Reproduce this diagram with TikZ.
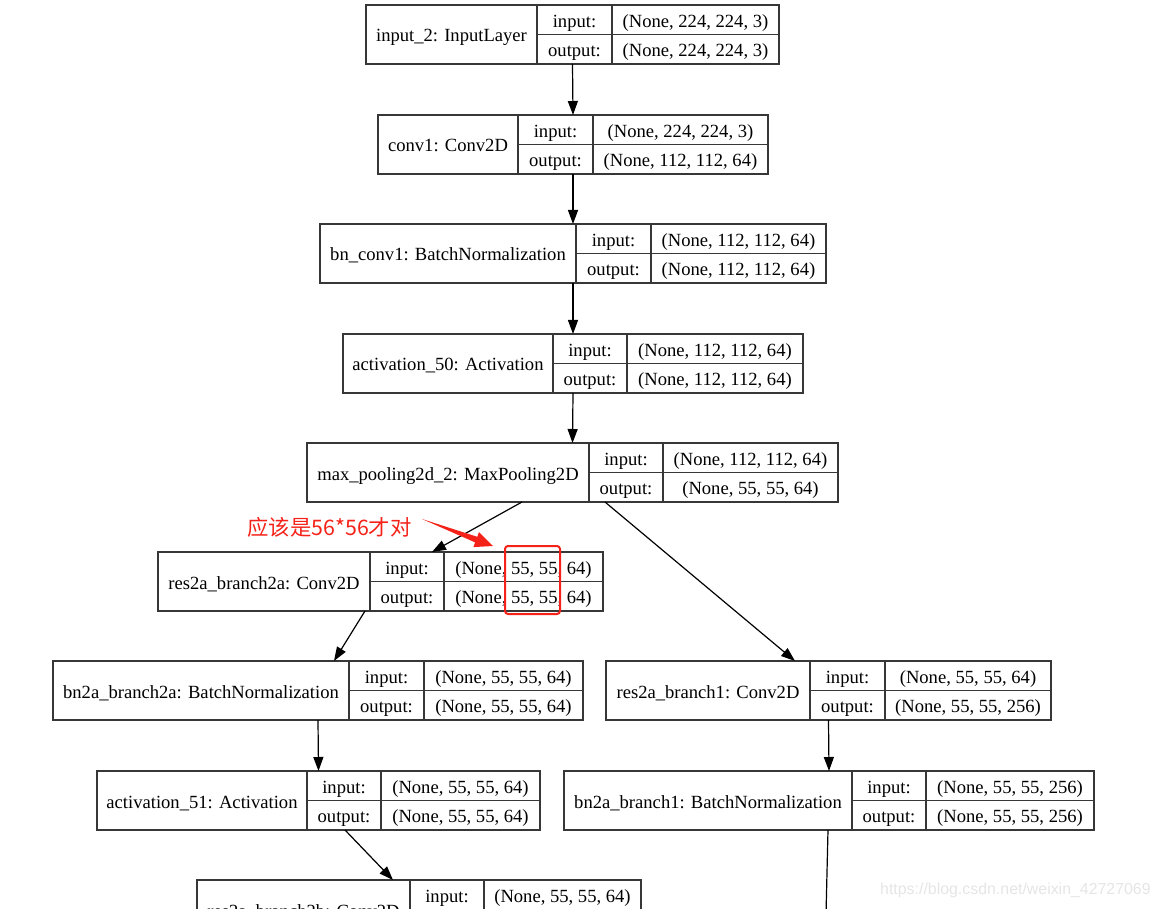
\documentclass[tikz,border=0pt]{standalone}
\usepackage{fontspec}
\setmainfont{Liberation Serif}
\newfontfamily\cjkfont{Noto Sans CJK SC}
\newfontfamily\wmfont{Liberation Sans}
\usetikzlibrary{arrows.meta}
\definecolor{annot}{RGB}{245,34,25}
\definecolor{rule}{RGB}{55,55,55}
\tikzset{
	layer/.style={rectangle, draw=rule, line width=1.3pt, inner sep=0pt, outer sep=0pt, minimum height=59pt, anchor=north west},
	cell/.style={rectangle, draw=rule, line width=1.3pt, inner sep=0pt, outer sep=0pt, minimum height=29.5pt, anchor=north west, text height=19pt, text depth=4pt, font=\fontsize{18.6}{22}\selectfont},
	title/.style={inner sep=0pt, text height=19pt, text depth=4pt, font=\fontsize{18.6}{22}\selectfont},
	edge/.style={draw, line width=1.2pt, -{Triangle[length=14pt,width=10pt]}},
	note/.style={text=annot, inner sep=0pt, font=\cjkfont\fontsize{21.4}{24}\selectfont},
	redbox/.style={draw=annot, line width=2pt, rounded corners=3pt, inner sep=0pt, minimum width=55pt, minimum height=68pt},
	wm/.style={text=black!10, inner sep=0pt, font=\wmfont\fontsize{15.9}{18}\selectfont}
}
\newcommand{\layerbox}[9]{%
	\node[layer, minimum width={(#6-#2)*1pt}] (#1) at (#2,#3) {};
	\node[title] (#1-name) at ({(#2+#4)/2},{#3+29.5}) {#7};
	\node[cell, minimum width={(#5-#4)*1pt}] (#1-il) at (#4,#3) {input:};
	\node[cell, minimum width={(#5-#4)*1pt}] (#1-ol) at (#4,{#3+29.5}) {output:};
	\node[cell, minimum width={(#6-#5)*1pt}] (#1-iv) at (#5,#3) {#8};
	\node[cell, minimum width={(#6-#5)*1pt}] (#1-ov) at (#5,{#3+29.5}) {#9};
}

\begin{document}
\begin{tikzpicture}[x=1pt, y=-1pt]
\clip (0,0) rectangle (1160,909);

\layerbox{input2}{366}{5}{537}{612}{779}{input\_2: InputLayer}{(None, 224, 224, 3)}{(None, 224, 224, 3)}
\layerbox{conv1}{378}{115}{518}{593}{768}{conv1: Conv2D}{(None, 224, 224, 3)}{(None, 112, 112, 64)}
\layerbox{bnconv1}{320}{224}{576}{651}{826}{bn\_conv1: BatchNormalization}{(None, 112, 112, 64)}{(None, 112, 112, 64)}
\layerbox{act50}{343}{334}{553}{627}{803}{activation\_50: Activation}{(None, 112, 112, 64)}{(None, 112, 112, 64)}
\layerbox{pool}{307}{443}{589}{663}{838}{max\_pooling2d\_2: MaxPooling2D}{(None, 112, 112, 64)}{(None, 55, 55, 64)}
\layerbox{res2a2a}{158}{552}{370}{444}{603}{res2a\_branch2a: Conv2D}{(None, 55, 55, 64)}{(None, 55, 55, 64)}
\layerbox{bn2a2a}{53}{661}{349}{424}{583}{bn2a\_branch2a: BatchNormalization}{(None, 55, 55, 64)}{(None, 55, 55, 64)}
\layerbox{res2a1}{606}{661}{810}{885}{1051}{res2a\_branch1: Conv2D}{(None, 55, 55, 64)}{(None, 55, 55, 256)}
\layerbox{act51}{97}{771}{307}{381}{540}{activation\_51: Activation}{(None, 55, 55, 64)}{(None, 55, 55, 64)}
\layerbox{bn2a1}{564}{771}{852}{926}{1094}{bn2a\_branch1: BatchNormalization}{(None, 55, 55, 256)}{(None, 55, 55, 256)}
\layerbox{res2a2b}{197}{880}{410}{484}{641}{res2a\_branch2b: Conv2D}{(None, 55, 55, 64)}{(None, 55, 55, 64)}

\coordinate (bn2a1-out) at (826,915);

\draw [edge] (input2.south) -- (conv1.north);
\draw [edge] (conv1.south) -- (bnconv1.north);
\draw [edge] (bnconv1.south) -- (act50.north);
\draw [edge] (act50.south) -- (pool.north);
\draw [edge] ([xshift=-50.5pt]pool.south) -- ([xshift=51.5pt]res2a2a.north);
\draw [edge] ([xshift=32.5pt]pool.south) -- ([xshift=-33.5pt]res2a1.north);
\draw [edge] ([xshift=-15.5pt]res2a2a.south) -- ([xshift=16pt]bn2a2a.north);
\draw [edge] (bn2a2a.south) -- (act51.north);
\draw [edge] (res2a1.south) -- (bn2a1.north);
\draw [edge] ([xshift=26.5pt]act51.south) -- ([xshift=-26pt]res2a2b.north);
\draw [line width=1.2pt] ([xshift=-1pt]bn2a1.south) -- (bn2a1-out);

\node[note, anchor=west] (note) at (247,527) {应该是56*56才对};
\node[redbox, anchor=north west] (check) at (504,545) {};
\coordinate (redtail) at (422,519);
\coordinate (redtip) at (493,546);
\fill[annot] (redtail) -- (477.3,536.8) -- (479,532.1) -- (redtip) -- (473.4,547.1) -- (475.1,542.4) -- cycle;

\node[wm, anchor=west] (wm) at (880,890) {https://blog.csdn.net/weixin\_42727069};

\end{tikzpicture}
\end{document}
